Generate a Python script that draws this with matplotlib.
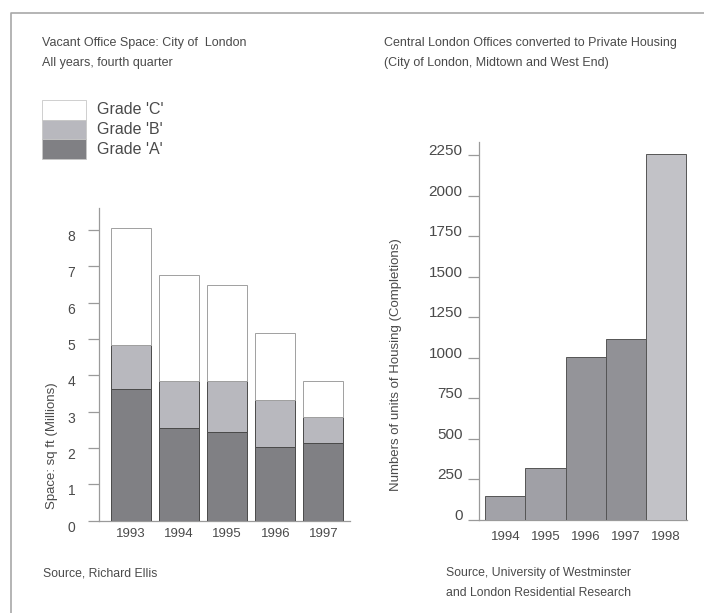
import matplotlib
matplotlib.use("Agg")
import matplotlib.pyplot as plt
from matplotlib.patches import Rectangle
from matplotlib.lines import Line2D
import numpy as np

plt.rcParams['font.family'] = ['Liberation Sans', 'DejaVu Sans']

# ---- data ----
years_left = ['1993', '1994', '1995', '1996', '1997']
grade_a = [3.62, 2.54, 2.43, 2.04, 2.14]
grade_b = [1.22, 1.29, 1.41, 1.28, 0.70]
grade_c = [3.21, 2.93, 2.65, 1.83, 1.00]
left_yticks = [0, 1, 2, 3, 4, 5, 6, 7, 8]

years_right = ['1994', '1995', '1996', '1997', '1998']
housing = [150, 323, 1003, 1118, 2256]
right_yticks = [0, 250, 500, 750, 1000, 1250, 1500, 1750, 2000, 2250]

W, H = 704, 613
fig = plt.figure(figsize=(W / 100, H / 100), dpi=100)
fig.patch.set_facecolor('white')

TXT = '#4a4a4a'
AX = '#9a9a9a'
col_a = '#808084'
col_b = '#b8b8be'
col_c = '#ffffff'

def fx(px):
    return px / W

def fy(py):
    return 1 - py / H

# frame border
fig.add_artist(Line2D([fx(11), fx(11), fx(704)], [fy(613), fy(13), fy(13)],
                      color='#a8a8a8', lw=1.2, transform=fig.transFigure))

# ---- left chart ----
axL = fig.add_axes([fx(99), fy(520.7), fx(350) - fx(99), fy(208) - fy(520.7)])
x = np.arange(len(years_left))
bw = 0.83
a = np.array(grade_a)
b = np.array(grade_b)
c = np.array(grade_c)
axL.bar(x, a, bw, color=col_a, edgecolor='#4a4a4a', lw=0.7, zorder=3)
axL.bar(x, b, bw, bottom=a, color=col_b, edgecolor='#4a4a4a', lw=0.7, zorder=3)
axL.bar(x, c, bw, bottom=a + b, color=col_c, edgecolor='#a0a0a0', lw=0.7, zorder=3)
axL.set_xlim(-0.658, 4.55)
axL.set_ylim(0, 8.6)
axL.set_yticks(left_yticks)
axL.set_yticklabels([str(v) for v in left_yticks])
axL.set_xticks(x)
axL.set_xticklabels(years_left)
for s in ['top', 'right']:
    axL.spines[s].set_visible(False)
for s in ['left', 'bottom']:
    axL.spines[s].set_color(AX)
    axL.spines[s].set_linewidth(0.9)
axL.tick_params(axis='y', length=8, width=0.9, color=AX, pad=9,
                labelsize=10, labelcolor=TXT)
axL.tick_params(axis='x', length=0, pad=5, labelsize=9.5, labelcolor=TXT)
for lbl in axL.get_yticklabels():
    lbl.set_va('top')
axL.set_ylabel('Space: sq ft (Millions)', fontsize=9.5, color=TXT)
axL.yaxis.set_label_coords((fx(57.5) - fx(99)) / (fx(350) - fx(99)),
                           (fy(446) - fy(520.7)) / (fy(208) - fy(520.7)))

# ---- right chart ----
axR = fig.add_axes([fx(479.3), fy(520), fx(686.7) - fx(479.3), fy(142) - fy(520)])
xr = np.arange(len(years_right))
bar_cols = ['#a2a2a8', '#a0a0a6', '#949499', '#919196', '#c2c2c7']
axR.bar(xr, housing, 1.0, color=bar_cols, edgecolor='#555555', lw=0.7, zorder=3)
axR.set_xlim(-0.648, 4.52)
axR.set_ylim(0, 2330)
axR.set_yticks(right_yticks)
axR.set_yticklabels([str(v) for v in right_yticks])
axR.set_xticks(xr)
axR.set_xticklabels(years_right)
for s in ['top', 'right']:
    axR.spines[s].set_visible(False)
for s in ['left', 'bottom']:
    axR.spines[s].set_color(AX)
    axR.spines[s].set_linewidth(0.9)
axR.tick_params(axis='y', length=8, width=0.9, color=AX, pad=4,
                labelsize=11, labelcolor=TXT)
axR.tick_params(axis='x', length=0, pad=8, labelsize=9.5, labelcolor=TXT)
for lbl in axR.get_yticklabels():
    lbl.set_va('baseline')
axR.set_ylabel('Numbers of units of Housing (Completions)', fontsize=9.5, color=TXT)
axR.yaxis.set_label_coords((fx(401.5) - fx(479.3)) / (fx(686.7) - fx(479.3)),
                           (fy(365) - fy(520)) / (fy(142) - fy(520)))

# ---- titles ----
fig.text(fx(42), fy(43), 'Vacant Office Space: City of  London', fontsize=9, color=TXT, va='center')
fig.text(fx(42), fy(63), 'All years, fourth quarter', fontsize=9, color=TXT, va='center')
fig.text(fx(384), fy(43), 'Central London Offices converted to Private Housing', fontsize=9, color=TXT, va='center')
fig.text(fx(384), fy(63), '(City of London, Midtown and West End)', fontsize=9, color=TXT, va='center')

# ---- legend ----
legend_items = [("Grade 'C'", col_c, 100, 120), ("Grade 'B'", col_b, 120, 139), ("Grade 'A'", col_a, 139, 159)]
for name, colr, y0, y1 in legend_items:
    fig.add_artist(Rectangle((fx(42), fy(y1)), fx(86) - fx(42), fy(y0) - fy(y1),
                             transform=fig.transFigure, facecolor=colr,
                             edgecolor='#c8c8c8', lw=0.6))
    fig.text(fx(97), fy((y0 + y1) / 2), name, fontsize=11.5, color=TXT, va='center')

# ---- sources ----
fig.text(fx(43), fy(573), 'Source, Richard Ellis', fontsize=8.8, color=TXT, va='center')
fig.text(fx(446), fy(573), 'Source, University of Westminster', fontsize=8.8, color=TXT, va='center')
fig.text(fx(446), fy(593), 'and London Residential Research', fontsize=8.8, color=TXT, va='center')

fig.savefig('out.png', dpi=100, facecolor='white')
